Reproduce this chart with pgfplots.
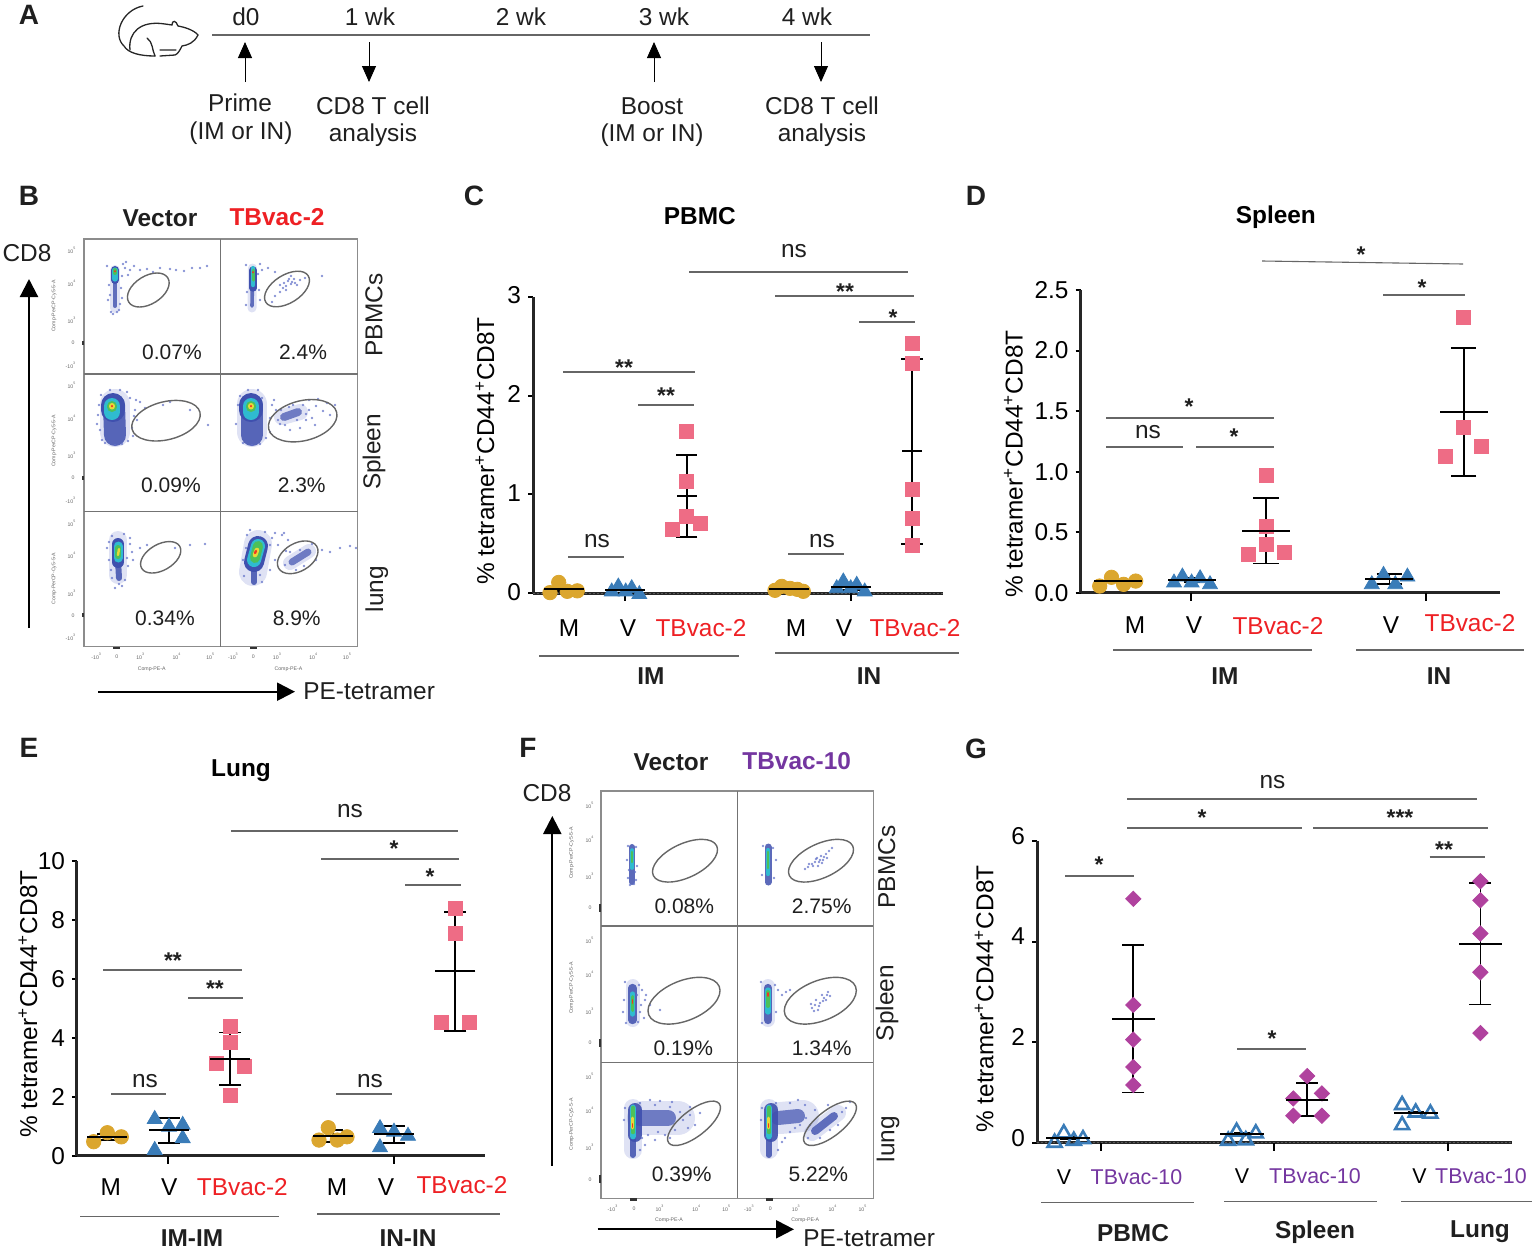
\documentclass[border=0pt]{standalone}
\usepackage{fontspec}
\setmainfont{Liberation Sans}
\usepackage{pgfplots}
\pgfplotsset{compat=1.18}
\usetikzlibrary{arrows.meta}

\definecolor{gold}{HTML}{DBA62E}
\definecolor{tblue}{HTML}{3A7CB8}
\definecolor{pinkc}{HTML}{EE6C85}
\definecolor{tbred}{HTML}{EE2024}
\definecolor{tbpurple}{HTML}{7436A0}
\definecolor{magc}{HTML}{B0429E}
\definecolor{rulec}{HTML}{666666}
\definecolor{gatec}{HTML}{666666}
\definecolor{fblue}{HTML}{3F50AE}
\definecolor{fcyan}{HTML}{2FBBD0}
\definecolor{fgreen}{HTML}{4CC05A}
\definecolor{fyellow}{HTML}{E8D838}
\definecolor{fred}{HTML}{EE3524}
\definecolor{fsparse}{HTML}{6070C8}

\newcommand{\fA}{\fontsize{12.2}{14}\selectfont}
\newcommand{\fB}{\fontsize{10.5}{12.5}\selectfont}
\newcommand{\fS}{\fontsize{11.4}{13}\selectfont\bfseries}
\newcommand{\fL}{\fontsize{14}{16}\selectfont\bfseries}
\newcommand{\ylab}{\% tetramer\textsuperscript{+}CD44\textsuperscript{+}CD8T}
\newcommand{\tl}[2][0pt]{\raisebox{#1}[10pt][3pt]{#2}}
\newcommand{\tbtwo}[1][0pt]{\tl[#1]{\textcolor{tbred}{TBvac-2}}}
\newcommand{\tbten}[1][0pt]{\tl[#1]{\textcolor{tbpurple}{TBvac-10}}}
\newcommand{\xtk}[1]{\draw[black, line width=1pt] (axis cs:#1,0) -- ++(0pt,-4pt);}

\pgfplotsset{
  dot/.style={
    scale only axis, clip=false,
    axis x line=bottom, axis y line=left,
    axis line style={-, line width=1.5pt, color=black!85},
    xmin=0, ymin=0,
    major tick length=2.5pt, tick align=outside,
    ytick style={draw=black, line width=1pt},
    xtick style={draw=black, line width=1pt},
    xticklabels={,,,},
    extra x tick style={major tick length=0pt},
    /pgf/number format/assume math mode=true,
    tick label style={font=\fA},
    xticklabel style={inner sep=0pt},
    ylabel=\ylab,
    ylabel style={font=\fA, anchor=center},
    title style={font=\fA\bfseries, anchor=center, yshift=-6pt},
  },
  circ/.style={only marks, mark=*, mark size=3.6pt, color=gold, mark options={draw=gold, fill=gold}},
  tri/.style={only marks, mark=triangle*, mark size=4.3pt, color=tblue, mark options={draw=tblue, fill=tblue}},
  opentri/.style={only marks, mark=triangle, mark size=4pt, color=tblue, mark options={draw=tblue, line width=1.3pt}},
  sq/.style={only marks, mark=square*, mark size=3.5pt, color=pinkc, mark options={draw=pinkc, fill=pinkc}},
  dia/.style={only marks, mark=square*, mark size=2.7pt, color=magc, mark options={rotate=45, draw=magc, fill=magc}},
  meanbar/.style 2 args={only marks, black, mark=-, mark size=#1,
    mark options={line width=1pt},
    error bars/y dir=both, error bars/y explicit,
    error bars/error bar style={line width=.9pt, black},
    error bars/error mark options={rotate=90, mark size=#2, line width=.9pt, black}},
}
% x of the dot plots is the offset in px from the y axis, 1 px = 0.5 pt
\newcommand{\fl}[6]{\addplot[#1, line width=#2, line cap=round, no markers, forget plot] coordinates {(#3,#4)(#5,#6)};}
\newcommand{\halo}[5]{\addplot[fsparse, opacity=.2, line width=#1, line cap=round, no markers, forget plot] coordinates {(#2,#3)(#4,#5)};}
\newcommand{\sparse}[1]{\addplot[only marks, mark=*, mark size=.4pt, color=fsparse, opacity=.6, forget plot] coordinates {#1};}

\begin{document}
\begin{tikzpicture}
\path[use as bounding box] (0,0) rectangle (768.5pt,-626.5pt);

% ---- flow cytometry clouds, coordinates are image px
\begin{axis}[hide axis, scale only axis, width=768.5pt, height=626.5pt,
  at={(0pt,-626.5pt)}, anchor=south west, clip=false,
  xmin=0, xmax=1537, ymin=0, ymax=1253, y dir=reverse]
% B, PBMC vector
\halo{5pt}{115}{270}{115}{308}
\fl{fblue, opacity=.8}{2pt}{115}{274}{115}{306}
\fl{fblue}{4pt}{115}{270}{115}{280}
\fl{fcyan}{2.6pt}{115}{270}{115}{279}
\fl{fgreen}{2pt}{115}{270}{115}{273}
\fl{fred}{.8pt}{115}{271}{115}{271.5}
\sparse{(125,268)(130,270)(134,266)(140,270)(147,269)(153,272)(160,268)(170,269)(176,270)(184,271)(192,268)(200,268)(207,266)(122,276)(126,262)(108,300)(122,298)(111,312)(119,310)(128,275)(107,266)(123,264)(109,285)(121,288)(110,295)(120,304)(113,314)(117,312)}
% B, PBMC TBvac-2
\halo{4.5pt}{252.5}{268}{252}{308}
\fl{fblue, opacity=.8}{1.8pt}{252.5}{280}{252}{306}
\fl{fblue}{3.6pt}{253}{270}{253}{288}
\fl{fcyan}{2.2pt}{253}{268}{253}{285}
\fl{fgreen}{1.5pt}{253}{270}{253}{280}
\fl{fred}{.8pt}{253}{272}{253}{272.5}
\sparse{(262,270)(268,268)(275,272)(280,285)(284,283)(288,281)(291,284)(294,279)(297,285)(300,280)(286,290)(280,292)(275,296)(291,276)(305,278)(272,302)(260,300)(246,305)(258,274)(322,276)(289,279)(292,282)(295,283)(286,286)(283,288)(246,265)(260,264)(247,292)(259,290)}
% B, spleen vector
\halo{15pt}{115}{404}{115}{432}
\fl{fblue, opacity=.85}{11pt}{114}{405}{115}{435}
\fl{fblue}{12pt}{113}{405}{113}{410}
\fl{fcyan}{8pt}{112}{406}{112}{412}
\fl{fgreen}{5pt}{112}{406}{112}{407}
\fl{fyellow}{3pt}{112}{406}{112}{406.5}
\fl{fred}{1.2pt}{112}{406}{112}{406.2}
\sparse{(101,395)(130,398)(135,410)(132,428)(100,430)(102,440)(128,441)(140,402)(145,408)(163,405)(170,402)(190,410)(208,425)(127,392)(98,415)(137,420)(99,405)(97,424)(133,436)(105,443)(115,445)(122,444)(110,390)(120,390)(136,400)(134,416)}
% B, spleen TBvac-2
\halo{15pt}{252}{404}{252}{432}
\fl{fblue, opacity=.85}{11pt}{252}{405}{252}{435}
\fl{fblue}{12pt}{251}{405}{251}{410}
\fl{fcyan}{8pt}{251}{406}{251}{412}
\fl{fgreen}{5pt}{251}{406}{251}{407}
\fl{fyellow}{3pt}{251}{406}{251}{406.5}
\fl{fred}{1.2pt}{251}{406}{251}{406.2}
\halo{8pt}{282}{417}{300}{412}
\fl{fblue, opacity=.7}{4pt}{284}{417}{298}{412}
\sparse{(272,405)(276,410)(270,418)(278,420)(281,410)(285,425)(289,407)(293,405)(297,420)(303,405)(306,414)(309,410)(312,418)(316,406)(318,399)(323,411)(327,403)(330,415)(300,428)(290,430)(335,405)(262,398)(240,396)(266,438)(238,405)(236,424)(270,432)(243,443)(252,445)(260,444)(248,390)(258,390)(274,400)(306,420)(280,424)(309,400)(315,425)}
% B, lung vector
\halo{9pt}{118}{540}{118}{575}
\fl{fblue, opacity=.85}{3pt}{118}{560}{119}{578}
\fl{fblue}{6pt}{118}{544}{118}{562}
\fl{fcyan}{4.5pt}{118}{546}{118}{558}
\fl{fgreen}{3pt}{118}{548}{118}{556}
\fl{fyellow}{1.2pt}{119}{549}{118}{555}
\sparse{(112,536)(124,534)(130,544)(132,552)(109,560)(128,566)(112,578)(125,580)(140,548)(147,545)(175,548)(190,545)(205,544)(111,570)(119,584)(107,548)(130,538)(127,558)(109,542)(122,586)(115,588)(133,560)}
% B, lung TBvac-2
\halo{14pt}{258}{544}{253}{572}
\fl{fblue, opacity=.85}{3pt}{254}{565}{254}{582}
\fl{fblue}{10pt}{258}{546}{254}{562}
\fl{fcyan}{7pt}{258}{546}{254}{560}
\fl{fgreen}{5pt}{258}{546}{255}{558}
\fl{fyellow}{2.4pt}{257}{550}{255}{555}
\fl{fred}{1.2pt}{256}{551}{255}{553}
\halo{7pt}{290}{563}{309}{551}
\fl{fblue, opacity=.7}{3.5pt}{292}{562}{308}{552}
\sparse{(272,538)(278,545)(282,535)(275,560)(270,570)(285,565)(286,551)(290,552)(296,570)(304,566)(312,544)(316,560)(322,550)(330,552)(340,548)(350,546)(356,548)(262,582)(247,535)(244,576)(300,550)(246,548)(270,545)(275,533)(265,532)(250,530)(243,560)(260,575)(288,540)(284,533)}
% F, PBMC vector
\fl{fblue, opacity=.85}{3pt}{632}{847}{632}{882}
\fl{fcyan}{1.8pt}{632}{850}{632}{868}
\fl{fgreen}{1.1pt}{632}{852}{632}{862}
\sparse{(628,846)(636,847)(627,860)(637,866)(628,878)(636,880)(630,885)(634,884)(629,870)(635,872)}
% F, PBMC TBvac-10
\fl{fblue, opacity=.85}{3.5pt}{768}{847}{768}{882}
\fl{fcyan}{2.1pt}{768}{850}{768}{874}
\fl{fgreen}{1.3pt}{768}{852}{768}{868}
\sparse{(763,846)(773,848)(776,860)(762,875)(774,878)(820,860)(824,857)(815,862)(812,864)(818,866)(826,854)(829,851)(808,867)(805,869)(822,863)(817,858)(832,848)(819,862)(823,860)(827,858)(816,859)(821,856)(813,866)(809,864)}
% F, spleen vector
\halo{7pt}{632.5}{986}{632.5}{1020}
\fl{fblue, opacity=.85}{4.2pt}{632.5}{988}{632.5}{1020}
\fl{fcyan}{2.6pt}{632.5}{994}{632.5}{1014}
\fl{fgreen}{1.9pt}{632.5}{997}{632.5}{1010}
\fl{fred}{.8pt}{632.5}{1000}{632.5}{1003}
\sparse{(625,982)(639,985)(642,990)(645,1000)(640,1012)(644,1018)(650,1005)(638,1022)(626,1023)(624,1000)(646,995)(660,1010)(641,1005)(637,995)(623,1012)}
% F, spleen TBvac-10
\halo{7pt}{768}{986}{768}{1020}
\fl{fblue, opacity=.85}{4.2pt}{768}{988}{768}{1020}
\fl{fcyan}{2.6pt}{768}{990}{768}{1012}
\fl{fgreen}{1.9pt}{768}{992}{768}{1006}
\fl{fred}{.8pt}{768}{993}{768}{996}
\sparse{(761,982)(775,985)(778,990)(782,995)(786,992)(790,990)(776,1012)(762,1023)(820,1003)(824,998)(815,1005)(822,995)(828,992)(818,1010)(812,1008)(826,1000)(830,996)(816,1000)(819,1006)(823,1001)(827,995)(814,1011)(811,1004)}
% F, lung vector
\halo{17pt}{644}{1118}{678}{1118}
\halo{9pt}{633}{1108}{633}{1150}
\fl{fblue, opacity=.7}{8pt}{640}{1118}{668}{1118}
\fl{fblue, opacity=.85}{3pt}{632.5}{1125}{632.5}{1155}
\fl{fblue, opacity=.9}{7pt}{635}{1110}{635}{1135}
\fl{fcyan}{3.4pt}{633}{1108}{633}{1136}
\fl{fgreen}{2.3pt}{633}{1108}{633}{1132}
\fl{fyellow}{1.4pt}{632.5}{1118}{632.5}{1128}
\fl{fred}{.8pt}{632.5}{1124}{632.5}{1127}
\sparse{(640,1103)(655,1105)(670,1107)(680,1112)(690,1115)(695,1125)(688,1128)(665,1135)(655,1140)(645,1145)(640,1150)(675,1130)(700,1113)(690,1107)(650,1100)(660,1101)(672,1102)(683,1120)(648,1135)(658,1132)(670,1138)(642,1138)(625,1108)(624,1120)}
% F, lung TBvac-10
\halo{16pt}{780}{1118}{803}{1116}
\halo{9pt}{769}{1108}{769}{1150}
\fl{fblue, opacity=.7}{7pt}{778}{1118}{798}{1116}
\fl{fblue, opacity=.85}{3pt}{768.5}{1125}{768.5}{1155}
\fl{fblue, opacity=.9}{7pt}{771}{1110}{771}{1135}
\fl{fcyan}{3.4pt}{769}{1108}{769}{1136}
\fl{fgreen}{2.3pt}{769}{1108}{769}{1132}
\fl{fyellow}{1.4pt}{768.5}{1118}{768.5}{1128}
\fl{fred}{.8pt}{768.5}{1124}{768.5}{1127}
\halo{8pt}{812}{1133}{838}{1113}
\fl{fblue, opacity=.8}{4pt}{815}{1131}{834}{1116}
\sparse{(776,1103)(790,1103)(805,1105)(815,1110)(800,1125)(790,1132)(782,1142)(778,1150)(810,1125)(808,1138)(820,1138)(830,1130)(842,1112)(846,1108)(850,1102)(838,1125)(828,1105)(798,1100)(785,1138)(795,1128)(762,1108)(761,1120)(806,1118)}
\end{axis}

% ---- everything that is not data, image px with y going down
\begin{scope}[x=.5pt, y=-.5pt, every node/.style={inner sep=0pt, text=black!88}]
\newcommand{\T}[3]{\node[font=\fA] at (#1,#2) {#3};}
\newcommand{\Tb}[3]{\node[font=\fA\bfseries] at (#1,#2) {#3};}
\newcommand{\Tp}[3]{\node[font=\fB] at (#1,#2) {#3};}
\newcommand{\TR}[3]{\node[font=\fA, rotate=90] at (#1,#2) {#3};}
\newcommand{\rl}[3]{\draw[rulec, line width=.55pt] (#1,#3) -- (#2,#3);}
\newcommand{\sig}[3]{\node[font=\fS, anchor=base] at (#1,#2+13) {#3};}
\newcommand{\LL}[3]{\node[font=\fL] at (#1,#2) {#3};}
\newcommand{\gate}[5]{\draw[gatec, line width=.7pt, rotate around={#5:(#1,#2)}] (#1,#2) ellipse [x radius=#3, y radius=#4];}
\newcommand{\ttk}[3]{\node[font=\fontsize{2.6}{3}\selectfont, text=black!60] at (#1,#2) {#3};}

\LL{29}{15}{A}\LL{29}{196}{B}\LL{474}{196}{C}\LL{976}{196}{D}\LL{29}{748}{E}\LL{528}{748}{F}\LL{976}{749}{G}

% A timeline
\draw[rulec, line width=.7pt] (212,35) -- (870,35);
\T{246}{17}{d0}\T{370}{17}{1 wk}\T{521}{17}{2 wk}\T{664}{17}{3 wk}\T{807}{17}{4 wk}
\foreach \xa/\ya/\yb in {245/82/42, 369/42/82, 654/82/42, 821/42/82}
  \draw[-{Triangle[length=8pt,width=7pt]}, black, line width=.45pt] (\xa,\ya) -- (\xa,\yb);
\T{240}{103}{Prime}\T{241}{133}{(IM or IN)}
\T{373}{106}{CD8 T cell}\T{373}{135}{analysis}
\T{652}{106}{Boost}\T{652}{135}{(IM or IN)}
\T{822}{106}{CD8 T cell}\T{822}{135}{analysis}
% mouse
\draw[black!85, line width=.65pt, line cap=round] (143,6) .. controls (122,10) and (112,35) .. (124,46) .. controls (128,53) and (140,56) .. (155,56);
\draw[black!85, line width=.65pt, line cap=round] (130,50) .. controls (128,33) and (140,20) .. (165,24) -- (172,25) .. controls (172,20) and (176,20) .. (178,26) .. controls (184,27) and (194,30) .. (198,35) .. controls (194,43) and (188,45) .. (182,46) .. controls (180,50) and (178,54) .. (175,55) -- (160,56);
\draw[black!85, line width=.65pt, line cap=round] (147,38) .. controls (153,42) and (152,50) .. (155,56) (160,50) -- (176,50);

% B frame
\draw[black!45, line width=.6pt] (84,239) rectangle (357.7,646.7);
\draw[black!55, line width=.7pt] (220.7,239) -- (220.7,646.7) (84,374) -- (357.7,374) (84,511.7) -- (357.7,511.7);
\gate{148.3}{290}{23}{14}{32}\gate{287}{289}{25}{14}{32}
\gate{166}{420.7}{35}{19}{14}\gate{302.7}{420.7}{35}{20}{14}
\gate{160.7}{557.3}{22}{13}{30}\gate{297.7}{557.3}{22}{14}{30}
\Tp{172}{352.7}{0.07\%}\Tp{303}{352.7}{2.4\%}\Tp{171}{485}{0.09\%}\Tp{301.7}{485}{2.3\%}\Tp{165}{618}{0.34\%}\Tp{296.7}{618}{8.9\%}
\TR{374}{315}{PBMCs}\TR{374}{452}{Spleen}\TR{376.7}{589}{lung}
\Tb{160}{218}{Vector}
\node[font=\fA\bfseries, text=tbred] at (277,217) {TBvac-2};
\T{27}{253}{CD8}
\draw[-{Triangle[length=9pt,width=9pt]}, black, line width=1.1pt] (29,628) -- (29,279);
\draw[-{Triangle[length=9pt,width=9pt]}, black, line width=1.1pt] (98,691.7) -- (295,691.7);
\node[font=\fA, anchor=west] at (303,691.7) {PE-tetramer};
\foreach \ry in {239,374,511.7}{
  \ttk{72}{\ry+11.7}{10\textsuperscript{5}}\ttk{72}{\ry+44}{10\textsuperscript{4}}\ttk{72}{\ry+81.7}{10\textsuperscript{3}}\ttk{73}{\ry+103.7}{0}\ttk{71}{\ry+126}{-10\textsuperscript{3}}
  \node[font=\fontsize{2.6}{3}\selectfont, text=black!60, rotate=90] at (54,\ry+67) {Comp-PerCP-Cy5-5-A};
  \fill[black!80] (81.5,\ry+101.5) rectangle (84,\ry+105.5);
}
\foreach \cx in {84,220.7}{
  \ttk{\cx+12.7}{656.7}{-10\textsuperscript{3}}\ttk{\cx+32.7}{656.7}{0}\ttk{\cx+56.7}{656.7}{10\textsuperscript{3}}\ttk{\cx+93}{656.7}{10\textsuperscript{4}}\ttk{\cx+126.7}{656.7}{10\textsuperscript{5}}
  \ttk{\cx+67.7}{669}{Comp-PE-A}
  \fill[black!80] (\cx+29,646.7) rectangle (\cx+36,649);
}

% F frame
\draw[black!45, line width=.6pt] (601,791) rectangle (873.3,1198.3);
\draw[black!55, line width=.7pt] (737.3,791) -- (737.3,1198.3) (601,926) -- (873.3,926) (601,1062.3) -- (873.3,1062.3);
\gate{685}{860.7}{35}{17}{25}\gate{821}{860.7}{35}{17}{25}
\gate{684}{1000.7}{38}{20}{22}\gate{820.3}{1000.7}{38}{20}{22}
\gate{694}{1123.3}{32}{13}{38}\gate{830}{1123.3}{32}{13}{38}
\Tp{684.3}{906.7}{0.08\%}\Tp{821.7}{906.7}{2.75\%}\Tp{683.3}{1048}{0.19\%}\Tp{821.7}{1048}{1.34\%}\Tp{681.7}{1174}{0.39\%}\Tp{818.3}{1174}{5.22\%}
\TR{886.7}{867}{PBMCs}\TR{887}{1003}{Spleen}\TR{888}{1139}{lung}
\Tb{671}{762}{Vector}
\node[font=\fA\bfseries, text=tbpurple] at (796.7,761) {TBvac-10};
\T{547}{793}{CD8}
\draw[-{Triangle[length=9pt,width=9pt]}, black, line width=1.1pt] (552.3,1165.7) -- (552.3,816);
\draw[-{Triangle[length=9pt,width=9pt]}, black, line width=1.1pt] (597.7,1229.3) -- (794,1229.3);
\node[font=\fA, anchor=west] at (803,1238) {PE-tetramer};
\foreach \ry in {791,926,1062.3}{
  \ttk{590}{\ry+14}{10\textsuperscript{5}}\ttk{590}{\ry+48}{10\textsuperscript{4}}\ttk{590}{\ry+85}{10\textsuperscript{3}}\ttk{590}{\ry+117}{0}
  \node[font=\fontsize{2.6}{3}\selectfont, text=black!60, rotate=90] at (571.7,\ry+62) {Comp-PerCP-Cy5-5-A};
  \fill[black!80] (598.5,\ry+113) rectangle (601,\ry+121);
}
\foreach \cx in {601,737.3}{
  \ttk{\cx+12}{1208.3}{-10\textsuperscript{3}}\ttk{\cx+33}{1208.3}{0}\ttk{\cx+59}{1208.3}{10\textsuperscript{3}}\ttk{\cx+95.7}{1208.3}{10\textsuperscript{4}}\ttk{\cx+125.7}{1208.3}{10\textsuperscript{5}}
  \ttk{\cx+68}{1220}{Comp-PE-A}
  \fill[black!80] (\cx+29,1198.3) rectangle (\cx+36,1200.5);
}

% C significance
\rl{689}{908}{272}\T{794}{250.7}{ns}
\rl{775}{914}{296}\sig{845}{286}{**}
\rl{859}{915}{322}\sig{893}{312}{*}
\rl{563}{695}{372}\sig{624}{362}{**}
\rl{638}{694}{405}\sig{666}{390}{**}
\rl{568}{624}{557}\T{597}{541}{ns}
\rl{788}{844}{554}\T{822}{541}{ns}
\rl{539}{739}{656}\rl{775}{959}{653}
\Tb{651}{676}{IM}\Tb{869}{676}{IN}
% D significance
\draw[rulec, line width=.55pt] (1262,261) -- (1463,264);\sig{1361}{249}{*}
\rl{1383}{1465}{295}\sig{1422}{282}{*}
\rl{1106}{1274}{418}\sig{1189}{401}{*}
\rl{1106}{1183}{447}\T{1148}{432}{ns}
\rl{1196}{1274}{447}\sig{1234}{431}{*}
\rl{1113}{1312}{650}\rl{1356}{1524}{650}
\Tb{1225}{676}{IM}\Tb{1439}{676}{IN}
% E significance
\rl{231}{458}{831}\T{350}{811}{ns}
\rl{321}{459}{859}\sig{394}{843}{*}
\rl{405}{461}{885}\sig{430}{871}{*}
\rl{103}{242}{970}\sig{173}{955}{**}
\rl{188}{243}{998}\sig{215}{983}{**}
\rl{111}{166}{1094}\T{145}{1081}{ns}
\rl{336}{392}{1094}\T{370}{1081}{ns}
\rl{80}{279}{1216.7}\rl{317}{500}{1214}
\Tb{192}{1238}{IM-IM}\Tb{408}{1238}{IN-IN}
% G significance
\rl{1127}{1477}{799}\T{1272.5}{782}{ns}
\rl{1127}{1302}{828}\sig{1202}{812}{*}
\rl{1313}{1488}{828}\sig{1400}{812}{***}
\rl{1429.5}{1485}{857}\sig{1444}{844}{**}
\rl{1065}{1133.5}{876}\sig{1099}{859}{*}
\rl{1237}{1306}{1049}\sig{1272}{1033}{*}
\rl{1041}{1194}{1202.7}\rl{1224}{1377}{1201.7}\rl{1401}{1532}{1201.7}
\Tb{1133}{1233}{PBMC}\Tb{1315}{1232}{Spleen}\Tb{1480}{1232}{Lung}
\end{scope}

% ---- C
\begin{axis}[dot, width=205pt, height=148.3pt, at={(266.5pt,-296.65pt)}, anchor=south west,
  xmax=410, ymax=3, ytick={0,1,2,3},
  yticklabel style={yshift=.8pt},
  xtick={92,318},
  extra x ticks={36,95,168,263,311,382},
  extra x tick labels={\tl{M},\tl{V},\tbtwo,\tl{M},\tl{V},\tbtwo},
  xticklabel style={yshift=-11.3pt},
  title={PBMC}, title style={at={(axis description cs:.407,1.272)}},
  ylabel style={at={(axis description cs:-.117,.48)}}]
\draw[black!65, line width=.4pt, dash pattern=on 1pt off 1pt] (axis cs:0,0) -- (axis cs:410,0);
\xtk{92}\xtk{318}
\addplot[circ] coordinates {(17,.007)(25.7,.11)(34.3,.02)(44.3,.025)};
\addplot[meanbar={10pt}{5pt}] coordinates {(30.7,.04) +- (0,.015)};
\addplot[tri] coordinates {(78.7,.017)(85.3,.067)(92.7,.017)(98.7,.05)(106.3,-.01)};
\addplot[meanbar={10pt}{5pt}] coordinates {(92,.034) +- (0,.03)};
\addplot[sq] coordinates {(153.7,1.635)(153.7,1.136)(153.7,.775)(139.7,.647)(167.3,.708)};
\addplot[meanbar={5pt}{5.3pt}] coordinates {(153.7,.984) += (0,.411) -= (0,.418)};
\addplot[circ] coordinates {(242,.03)(248.7,.07)(257,.05)(264.3,.04)(270.3,.02)};
\addplot[meanbar={10pt}{5pt}] coordinates {(256,.047) +- (0,.015)};
\addplot[tri] coordinates {(303.7,.05)(310.3,.118)(317.7,.05)(323.7,.084)(331.7,.017)};
\addplot[meanbar={10pt}{5pt}] coordinates {(317.7,.067) +- (0,.03)};
\addplot[sq] coordinates {(379,2.528)(379,2.326)(379,1.055)(379,.758)(379,.489)};
\addplot[meanbar={5pt}{5.3pt}] coordinates {(379,1.439) += (0,.931) -= (0,.94)};
\end{axis}

% ---- D
\begin{axis}[dot, width=209.9pt, height=151.35pt, at={(540.3pt,-296.35pt)}, anchor=south west,
  xmax=419.8, ymax=2.5, ytick={0,.5,1,1.5,2,2.5},
  yticklabel style={/pgf/number format/fixed, /pgf/number format/fixed zerofill, /pgf/number format/precision=1},
  xtick={110.6,345.6},
  extra x ticks={54.4,113.4,197.4,310.4,389.4},
  extra x tick labels={\tl{M},\tl{V},\tbtwo[-.5pt],\tl{V},\tbtwo[1pt]},
  xticklabel style={yshift=-10pt},
  title={Spleen}, title style={at={(axis description cs:.465,1.241)}},
  ylabel style={at={(axis description cs:-.16,.425)}}]
\xtk{110.6}\xtk{345.6}
\addplot[circ] coordinates {(19.1,.055)(30.9,.127)(43,.069)(55.1,.096)};
\addplot[meanbar={12pt}{4pt}] coordinates {(37.1,.094) +- (0,.01)};
\addplot[tri] coordinates {(93.4,.083)(101.8,.132)(111,.083)(119.5,.118)(129.4,.069)};
\addplot[meanbar={12pt}{4pt}] coordinates {(111,.105) +- (0,.015)};
\addplot[sq] coordinates {(185.3,.966)(185.3,.545)(185.3,.4)(167.3,.319)(203.3,.333)};
\addplot[meanbar={12pt}{6.4pt}] coordinates {(185.3,.512) += (0,.267) -= (0,.27)};
\addplot[tri] coordinates {(291.2,.069)(302.9,.146)(314.7,.069)(326.8,.132)};
\addplot[meanbar={12pt}{6.4pt}] coordinates {(308.8,.113) += (0,.041) -= (0,.039)};
\addplot[sq] coordinates {(383,2.271)(383,1.366)(365,1.123)(400.7,1.206)};
\addplot[meanbar={12pt}{6.4pt}] coordinates {(383,1.495) += (0,.529) -= (0,.534)};
\end{axis}

% ---- E
\begin{axis}[dot, width=204pt, height=147.5pt, at={(38.5pt,-577.85pt)}, anchor=south west,
  xmax=408, ymax=10, ytick={0,2,4,6,8,10},
  xtick={91.3,317.3},
  extra x ticks={33.7,92.3,165.3,260,309,385},
  extra x tick labels={\tl{M},\tl{V},\tbtwo,\tl{M},\tl{V},\tbtwo[1.3pt]},
  xticklabel style={yshift=-9.8pt},
  title={Lung}, title style={at={(axis description cs:.402,1.304)}},
  ylabel style={at={(axis description cs:-.12,.514)}}]
\xtk{91.3}\xtk{317.3}
\addplot[circ] coordinates {(16.7,.475)(30.3,.78)(44.3,.64)};
\addplot[meanbar={10pt}{5pt}] coordinates {(30.3,.63) +- (0,.1)};
\addplot[tri] coordinates {(77.7,1.24)(77.7,.19)(92,.98)(105.7,1.04)(105.7,.59)};
\addplot[meanbar={10pt}{5.5pt}] coordinates {(91.7,.86) += (0,.43) -= (0,.44)};
\addplot[sq] coordinates {(153.3,4.4)(153.3,3.83)(139.3,3.13)(167.3,3.04)(153.3,2.06)};
\addplot[meanbar={10pt}{5.5pt}] coordinates {(153.3,3.28) += (0,.9) -= (0,.87)};
\addplot[circ] coordinates {(242,.53)(251.3,.95)(260.3,.53)(270,.64)};
\addplot[meanbar={10pt}{5pt}] coordinates {(255.7,.667) +- (0,.2)};
\addplot[tri] coordinates {(303,.93)(303,.28)(317,.81)(331,.67)};
\addplot[meanbar={10pt}{5.5pt}] coordinates {(317,.72) += (0,.3) -= (0,.3)};
\addplot[sq] coordinates {(378.3,8.37)(378.3,7.54)(364.3,4.52)(392.3,4.52)};
\addplot[meanbar={10pt}{5.5pt}] coordinates {(378.3,6.25) += (0,2) -= (0,2.02)};
\end{axis}

% ---- G
\begin{axis}[dot, width=237.7pt, height=150.85pt, at={(518.5pt,-571.35pt)}, anchor=south west,
  xmax=475.4, ymax=6, ytick={0,2,4,6},
  yticklabel style={yshift=2.5pt},
  xticklabel style={font=\fontsize{10.7}{12.5}\selectfont, yshift=-10.8pt},
  xtick={64.3,237.1,411},
  extra x ticks={27,99.5,205,278,382.6,444},
  extra x tick labels={\tl{V},\tbten,\tl[.7pt]{V},\tbten[.7pt],\tl[.7pt]{V},\tbten[.7pt]},
  ylabel style={at={(axis description cs:-.111,.476)}}]
\draw[black!65, line width=.4pt, dash pattern=on 1pt off 1pt] (axis cs:0,0) -- (axis cs:475.4,0);
\xtk{64.3}\xtk{237.1}\xtk{411}
\addplot[opentri] coordinates {(17.6,0)(26.8,.186)(36.8,.04)(46,.07)};
\addplot[meanbar={11pt}{4pt}] coordinates {(31.3,.093) +- (0,.02)};
\addplot[dia] coordinates {(96.3,4.85)(96.3,2.74)(96.3,2.05)(96.3,1.505)(96.3,1.147)};
\addplot[meanbar={10.6pt}{5.5pt}] coordinates {(96.3,2.467) += (0,1.463) -= (0,1.467)};
\addplot[opentri] coordinates {(191.2,.04)(199.6,.22)(208.8,.05)(218.8,.186)};
\addplot[meanbar={11pt}{4pt}] coordinates {(205.2,.166) +- (0,.02)};
\addplot[dia] coordinates {(270.2,1.326)(284.9,.98)(256.3,.88)(256.3,.537)(284.9,.537)};
\addplot[meanbar={10.6pt}{5.5pt}] coordinates {(270.2,.855) += (0,.335) -= (0,.331)};
\addplot[opentri] coordinates {(365.1,.75)(365.1,.35)(378.7,.6)(393.4,.58)};
\addplot[meanbar={11pt}{4pt}] coordinates {(378.7,.6) +- (0,.02)};
\addplot[dia] coordinates {(443.4,5.2)(443.4,4.82)(443.4,4.16)(443.4,3.39)(443.4,2.18)};
\addplot[meanbar={10.6pt}{5.5pt}] coordinates {(443.4,3.96) += (0,1.2) -= (0,1.21)};
\end{axis}
\end{tikzpicture}
\end{document}
